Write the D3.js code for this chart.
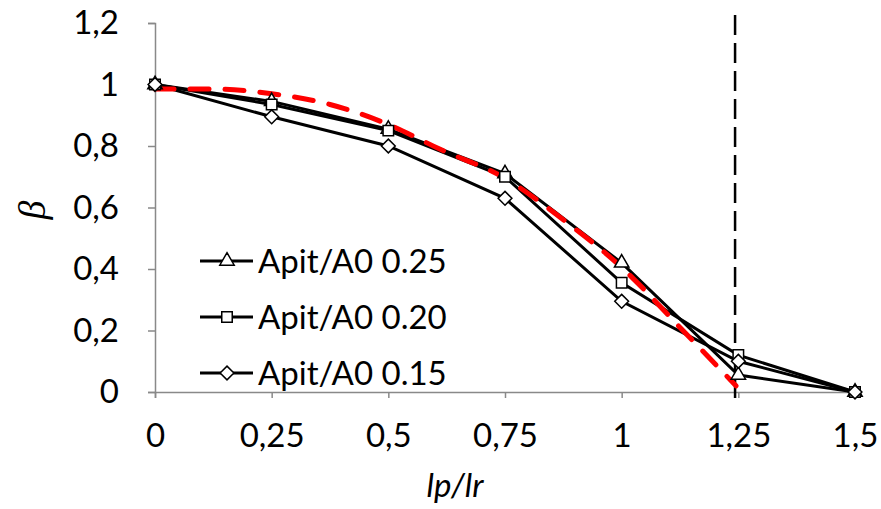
<!DOCTYPE html>
<html>
<head>
<meta charset="utf-8">
<script src="https://cdn.jsdelivr.net/npm/d3@7"></script>
<style>
  body { margin: 0; background: #fff; }
  text { font-family: Lato, "Open Sans", sans-serif; fill: #000; }
</style>
</head>
<body>
<svg id="chart" width="881" height="509"></svg>
<script>
// data
var xValues = [0, 0.25, 0.5, 0.75, 1, 1.25, 1.5];
var seriesNames = ["Apit/A0 0.25", "Apit/A0 0.20", "Apit/A0 0.15"];
var beta025 = [1, 0.945, 0.855, 0.71, 0.42, 0.055, 0];
var beta020 = [1, 0.935, 0.85, 0.70, 0.355, 0.12, 0];
var beta015 = [1, 0.895, 0.80, 0.63, 0.295, 0.10, 0];
var fitX = [0, 0.125, 0.25, 0.375, 0.5, 0.61, 0.75, 0.875, 1, 1.125, 1.245];
var fitY = [0.985, 0.985, 0.97, 0.935, 0.87, 0.79, 0.695, 0.56, 0.405, 0.21, 0.02];
var limitX = 1.243;
var xTicks = [0, 0.25, 0.5, 0.75, 1, 1.25, 1.5];
var yTicks = [0, 0.2, 0.4, 0.6, 0.8, 1, 1.2];

var svg = d3.select("#chart");
var fmt = function(d) { return String(d).replace(".", ","); };

var xScale = d3.scaleLinear().domain([0, 1.5]).range([155, 855]);
var yScale = d3.scaleLinear().domain([0, 1.2]).range([392, 23]);

// axes
var xAxis = svg.append("g")
  .attr("transform", "translate(0," + yScale(0) + ")")
  .call(d3.axisBottom(xScale).tickValues(xTicks).tickFormat(fmt).tickSize(6).tickPadding(26));
var yAxis = svg.append("g")
  .attr("transform", "translate(" + xScale(0) + ",0)")
  .call(d3.axisLeft(yScale).tickValues(yTicks).tickFormat(fmt).tickSize(7).tickPadding(29));

[xAxis, yAxis].forEach(function(ax) {
  ax.select(".domain").attr("stroke", "#898989").attr("stroke-width", 1.5);
  ax.selectAll(".tick line").attr("stroke", "#898989").attr("stroke-width", 1.5);
  ax.selectAll(".tick text").attr("fill", "#000")
    .style("font-family", "Lato, sans-serif").style("font-size", "33px");
});

// axis titles
svg.append("text")
  .attr("transform", "translate(45,210) rotate(-90)")
  .attr("text-anchor", "middle")
  .style("font-family", "'Liberation Serif', serif")
  .style("font-style", "italic")
  .style("font-size", "38px")
  .text("β");

svg.append("text")
  .attr("x", 455)
  .attr("y", 497)
  .attr("text-anchor", "middle")
  .style("font-style", "italic")
  .style("font-size", "33px")
  .text("lp/lr");

// vertical dashed limit
svg.append("line")
  .attr("x1", xScale(limitX)).attr("x2", xScale(limitX))
  .attr("y1", 15).attr("y2", 398)
  .attr("stroke", "#000")
  .attr("stroke-width", 2.5)
  .attr("stroke-dasharray", "20,8");

// data lines
var line = d3.line()
  .x(function(d) { return xScale(d[0]); })
  .y(function(d) { return yScale(d[1]); });

// diamond as a square turned 45 degrees
var symbolRhomb = {
  draw: function(context, size) {
    var r = Math.sqrt(size / 2);
    context.moveTo(0, -r);
    context.lineTo(r, 0);
    context.lineTo(0, r);
    context.lineTo(-r, 0);
    context.closePath();
  }
};

var series = [
  { name: seriesNames[0], values: beta025, symbol: d3.symbolTriangle, size: 90 },
  { name: seriesNames[1], values: beta020, symbol: d3.symbolSquare, size: 110 },
  { name: seriesNames[2], values: beta015, symbol: symbolRhomb, size: 95 }
];

series.forEach(function(s) {
  var pts = xValues.map(function(x, i) { return [x, s.values[i]]; });
  svg.append("path")
    .datum(pts)
    .attr("d", line)
    .attr("fill", "none")
    .attr("stroke", "#000")
    .attr("stroke-width", 3);
});

// red dashed fit
var fitLine = d3.line()
  .curve(d3.curveMonotoneX)
  .x(function(d) { return xScale(d[0]); })
  .y(function(d) { return yScale(d[1]); });

svg.append("path")
  .datum(fitX.map(function(x, i) { return [x, fitY[i]]; }))
  .attr("d", fitLine)
  .attr("fill", "none")
  .attr("stroke", "#ff0000")
  .attr("stroke-width", 5)
  .attr("stroke-linecap", "round")
  .attr("stroke-dasharray", "19,16");

// markers
series.forEach(function(s) {
  svg.selectAll(null)
    .data(xValues.map(function(x, i) { return [x, s.values[i]]; }))
    .enter().append("path")
    .attr("transform", function(d) { return "translate(" + xScale(d[0]) + "," + yScale(d[1]) + ")"; })
    .attr("d", d3.symbol().type(s.symbol).size(s.size))
    .attr("fill", "#fff")
    .attr("stroke", "#000")
    .attr("stroke-width", 1.5);
});

// legend
var legend = svg.selectAll(".legend")
  .data(series)
  .enter().append("g")
  .attr("class", "legend")
  .attr("transform", function(d, i) { return "translate(200," + (261 + i * 56) + ")"; });

legend.append("line")
  .attr("x1", 0).attr("x2", 53)
  .attr("stroke", "#000").attr("stroke-width", 3);

legend.append("path")
  .attr("transform", "translate(27,0)")
  .attr("d", function(d) { return d3.symbol().type(d.symbol).size(d.size)(); })
  .attr("fill", "#fff")
  .attr("stroke", "#000")
  .attr("stroke-width", 1.5);

legend.append("text")
  .attr("x", 58)
  .attr("dy", "0.35em")
  .style("font-size", "33px")
  .text(function(d) { return d.name; });
</script>
</body>
</html>
